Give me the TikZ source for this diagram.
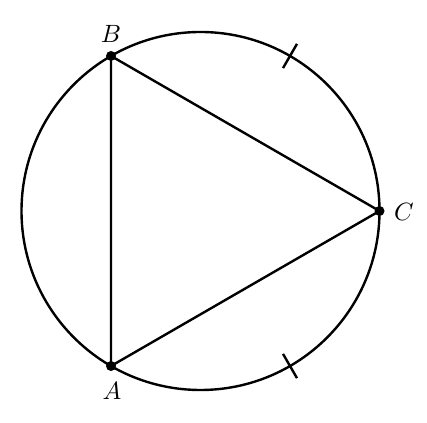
\documentclass[tikz,border=0pt]{standalone}
\usepackage{graphicx}
\usetikzlibrary{calc}
\begin{document}
\begin{tikzpicture}[x=1pt,y=1pt,line width=2.4pt,
  dot/.style={circle,fill=black,inner sep=0pt,minimum size=10pt},
  lbl/.style={inner sep=0pt}]
\useasboundingbox (0,0) rectangle (427,422);
\coordinate (O) at (200.5,211);
\draw (O) circle (179);
\node[dot] (A) at ($(O)+(240:179)$) {};
\node[dot] (B) at ($(O)+(120:179)$) {};
\node[dot] (C) at ($(O)+(0:179)$) {};
\draw (A.center) -- (B.center) -- (C.center) -- cycle;
\coordinate (t1a) at ($(O)+(60:165)$);
\coordinate (t1b) at ($(O)+(60:193)$);
\coordinate (t2a) at ($(O)+(300:165)$);
\coordinate (t2b) at ($(O)+(300:193)$);
\draw (t1a) -- (t1b);
\draw (t2a) -- (t2b);
\node[lbl] (LA) at (112,31) {\scalebox{2.5}{$A$}};
\node[lbl] (LB) at (111,388) {\scalebox{2.5}{$B$}};
\node[lbl] (LC) at (404,210) {\scalebox{2.5}{$C$}};
\end{tikzpicture}
\end{document}
